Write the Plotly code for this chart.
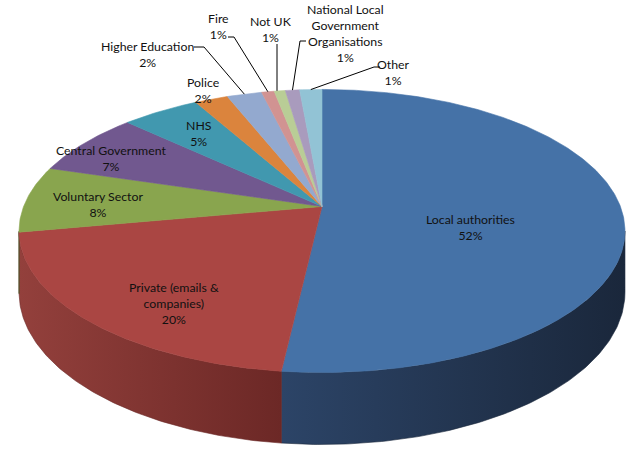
import numpy as np
import plotly.graph_objects as go

# ---------------- data ----------------
categories = ["Local authorities", "Private (emails & companies)", "Voluntary Sector",
              "Central Government", "NHS", "Police", "Higher Education", "Fire",
              "Not UK", "National Local Government Organisations", "Other"]
label_text = ["Local authorities", "Private (emails &<br>companies)", "Voluntary Sector",
              "Central Government", "NHS", "Police", "Higher Education", "Fire",
              "Not UK", "National Local<br>Government<br>Organisations", "Other"]
values = [51.8, 20.3, 7.6, 7.3, 4.9, 2.1, 2.2, 0.8, 0.7, 0.9, 1.4]

top_colors = ["#4572A7", "#AA4643", "#89A54E", "#71588F", "#4198AF", "#DB843D",
              "#93A9CF", "#D19392", "#B9CD96", "#A99BBD", "#92C3D5"]
side_colors = [("#2C4467", "#1A273B"), ("#93403C", "#6C2826"), ("#5E7335", "#4C5D2B"),
               ("#4E3D63", "#3F314F"), ("#2D6A7A", "#245663"), ("#9A5C2A", "#7D4A22"),
               ("#66768F", "#525F73"), ("#926766", "#765352"), ("#818F69", "#687455"),
               ("#766C84", "#5F576A"), ("#668895", "#536E78")]

# ---------------- geometry (projection of a tilted cylinder) ----------------
CX, CY = 322.0, 206.5
SX, SY, K, H = 298.4, 137.3, 0.173, 59.5


def proj(theta_deg, depth=0.0):
    t = np.radians(theta_deg)
    u, v = np.sin(t), -np.cos(t)
    w = 1 - K * v
    return CX + SX * u / w, CY + (SY * v + H * depth) / w


total = float(sum(values))
angles = np.concatenate([[0.0], np.cumsum(values) / total * 360.0])
sil_r = np.degrees(np.arccos(-K))          # right silhouette
sil_l = 360.0 - sil_r                      # left silhouette

fig = go.Figure()

# sides
for i, val in enumerate(values):
    a0, a1 = max(angles[i], sil_r), min(angles[i + 1], sil_l)
    if a1 <= a0:
        continue
    th = np.linspace(a0, a1, 120)
    xt, yt = proj(th, 0.0)
    xb, yb = proj(th[::-1], 1.0)
    xs = np.concatenate([xt, xb, [xt[0]]])
    ys = np.concatenate([yt, yb, [yt[0]]])
    c0, c1 = side_colors[i]
    fig.add_trace(go.Scatter(
        x=xs, y=ys, mode="lines", fill="toself",
        line=dict(width=0.6, color=c1),
        fillgradient=dict(type="horizontal", colorscale=[[0, c0], [1, c1]],
                          start=float(xs.min()), stop=float(xs.max())),
        hoverinfo="skip", showlegend=False))

# top faces
for i, val in enumerate(values):
    th = np.linspace(angles[i], angles[i + 1], max(8, int(val * 6)))
    xa, ya = proj(th, 0.0)
    xs = np.concatenate([[CX], xa, [CX]])
    ys = np.concatenate([[CY], ya, [CY]])
    fig.add_trace(go.Scatter(
        x=xs, y=ys, mode="lines", fill="toself",
        line=dict(width=0.6, color=top_colors[i]), fillcolor=top_colors[i],
        hoverinfo="skip", showlegend=False))

# ---------------- labels ----------------
label_pos = {
    0: (470, 227), 1: (174, 303), 2: (98, 204), 3: (111, 158), 4: (199, 133),
    5: (203, 90), 6: (147, 54), 7: (218, 26), 8: (271, 29), 9: (345, 33), 10: (393, 72),
}
leader_elbows = {
    6: [(194, 47), (204, 47)],
    7: [(228, 37), (234, 37)],
    8: [(277, 44), (277, 60)],
    9: [(306, 41), (300, 41)],
    10: [(380, 67), (374, 67)],
}

FONT = dict(family="Lato, 'Open Sans', sans-serif", size=12.3, color="#111111")

for i, val in enumerate(values):
    x, y = label_pos[i]
    fig.add_annotation(x=x, y=y, xref="x", yref="y", showarrow=False,
                       text=f"{label_text[i]}<br>{round(val)}%",
                       xanchor="center", yanchor="middle", align="center", font=FONT)
    if i in leader_elbows:
        mid = (angles[i] + angles[i + 1]) / 2
        ex, ey = proj(mid, 0.0)
        pts = leader_elbows[i]
        if i == 8:
            pts = [pts[0]]
            ex = pts[0][0]
        lx = [p[0] for p in pts] + [ex]
        ly = [p[1] for p in pts] + [ey]
        fig.add_trace(go.Scatter(x=lx, y=ly, mode="lines",
                                 line=dict(width=1, color="#000000"),
                                 hoverinfo="skip", showlegend=False))

fig.update_layout(
    width=641, height=453,
    margin=dict(l=0, r=0, t=0, b=0),
    paper_bgcolor="white", plot_bgcolor="white",
    xaxis=dict(range=[0, 641], visible=False, fixedrange=True),
    yaxis=dict(range=[453, 0], visible=False, fixedrange=True),
    showlegend=False,
)

fig.write_html("out.html", config={"displayModeBar": False},
               post_script="document.body.style.margin='0';document.body.style.overflow='hidden';")
